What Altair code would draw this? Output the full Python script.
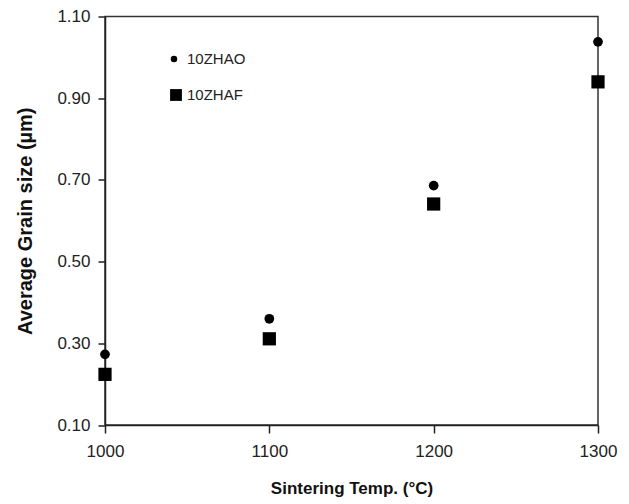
import altair as alt
import pandas as pd

temps = [1000, 1100, 1200, 1300]
zhao = [0.273, 0.360, 0.686, 1.038]
zhaf = [0.224, 0.311, 0.641, 0.940]
series_names = ["10ZHAO", "10ZHAF"]
y_ticks = [0.10, 0.30, 0.50, 0.70, 0.90, 1.10]
x_ticks = [1000, 1100, 1200, 1300]

FONT = "Liberation Sans"

df_o = pd.DataFrame({"temp": temps, "size": zhao})
df_f = pd.DataFrame({"temp": temps, "size": zhaf})

xenc = alt.X("temp:Q", scale=alt.Scale(domain=[1000, 1300], nice=False),
             axis=alt.Axis(values=x_ticks, format="d", title="Sintering Temp. (°C)",
                           tickSize=8, labelPadding=10, titlePadding=21, labelFlush=False,
                           titleFontSize=17))
yenc = alt.Y("size:Q", scale=alt.Scale(domain=[0.10, 1.10], nice=False, zero=False),
             axis=alt.Axis(values=y_ticks, format=".2f", title="Average Grain size (µm)",
                           tickSize=7, labelPadding=8, titlePadding=21, labelFlush=False,
                           titleFontSize=20))

circles = alt.Chart(df_o).mark_circle(color="black", opacity=1, size=95, clip=False).encode(x=xenc, y=yenc)
squares = alt.Chart(df_f).mark_square(color="black", opacity=1, size=175, clip=False).encode(x="temp:Q", y="size:Q")

leg_o = pd.DataFrame({"name": [series_names[0]]})
leg_f = pd.DataFrame({"name": [series_names[1]]})
leg_c = alt.Chart(leg_o).mark_circle(color="black", opacity=1, size=42).encode(
    x=alt.value(69), y=alt.value(42.5))
leg_ct = alt.Chart(leg_o).mark_text(align="left", baseline="middle", font=FONT, fontSize=15, color="#222").encode(
    x=alt.value(82), y=alt.value(42.5), text="name:N")
leg_s = alt.Chart(leg_f).mark_square(color="black", opacity=1, size=140).encode(
    x=alt.value(71), y=alt.value(78.5))
leg_st = alt.Chart(leg_f).mark_text(align="left", baseline="middle", font=FONT, fontSize=15, color="#222").encode(
    x=alt.value(82), y=alt.value(78.5), text="name:N")

chart = alt.layer(circles, squares, leg_c, leg_ct, leg_s, leg_st).properties(
    width=493, height=408.5,
    background="white",
    autosize=alt.AutoSizeParams(type="none"),
    padding={"left": 105, "top": 16.5, "right": 31, "bottom": 79},
).configure_view(
    stroke="#333", strokeWidth=1.5
).configure_axis(
    grid=False, domainColor="#222", domainWidth=1.5, tickColor="#222", tickWidth=1.5,
    labelFont=FONT, labelFontSize=17, labelColor="#222",
    titleFont=FONT, titleFontWeight="bold", titleColor="#111",
)

chart.save("out.html", embed_options={"renderer": "svg", "actions": False})
